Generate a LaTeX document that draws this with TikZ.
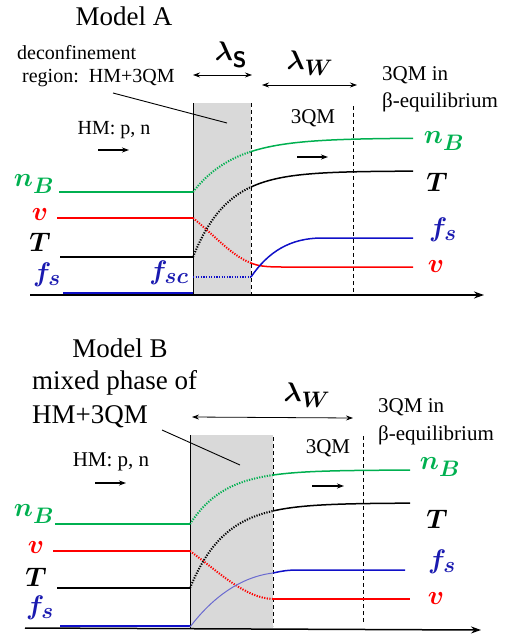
\documentclass[tikz,border=0pt]{standalone}
\usepackage{graphicx}
\usepackage{bm}
\usepackage{fontspec}
\setmainfont{Liberation Serif}
\usetikzlibrary{arrows.meta}
\definecolor{cgreen}{HTML}{00B050}
\definecolor{cred}{HTML}{FF0000}
\definecolor{cblue}{HTML}{1010C8}
\definecolor{lblue}{HTML}{1A1AB0}
\definecolor{lightblue}{HTML}{6A6AD0}
\definecolor{boxgray}{HTML}{D9D9D9}
\newcommand{\mlab}[1]{\scalebox{1.08}{$#1$}}
\begin{document}
\begin{tikzpicture}[x=1pt,y=-1pt,
  txt/.style={font=\fontsize{20}{23}\selectfont, inner sep=0pt, align=left},
  txtb/.style={font=\fontsize{21}{26}\selectfont, inner sep=0pt, align=left},
  big/.style={font=\fontsize{27}{31}\selectfont, inner sep=0pt, align=left},
  lab/.style={font=\fontsize{24.88}{30}\selectfont, inner sep=0pt},
  curve/.style={line width=1.5pt},
  dotc/.style={line width=2pt, dash pattern=on 1.2pt off 1.4pt},
  dashv/.style={line width=0.9pt, dash pattern=on 4pt off 3pt},
  darr/.style={line width=0.8pt, {Stealth[length=7pt,width=5pt]}-{Stealth[length=7pt,width=5pt]}},
  sarr/.style={line width=1.2pt, -{Stealth[length=7pt,width=5pt]}},
  axis/.style={line width=1.5pt, -{Stealth[length=10pt,width=7pt]}}
]
\useasboundingbox (0,0) rectangle (508,637);

%================ Model A ==================
\fill[boxgray] (193,103) rectangle (251,295);
\node[big] (mA) at (124,16) {Model A};
\node[txt, anchor=west] (dec1) at (17,53) {deconfinement};
\node[txt, anchor=west] (dec2) at (22,78) {region:\ \ HM+3QM};
\node[lab] (ls) at (231,55) {\mlab{\bm{\lambda}_{\bm{\mathsf{S}}}}};
\node[lab] (lw) at (310,63) {\mlab{\bm{\lambda_W}}};
\node[txtb, anchor=west] (eq1) at (382,75) {3QM in};
\node[txtb, anchor=west] (eq2) at (382,102) {β-equilibrium};
\node[txtb] (q3) at (313,118) {3QM};
\node[txt] (hm) at (114,130) {HM: p, n};

\coordinate (s1) at (193,75); \coordinate (s2) at (252,75);
\draw[darr] (s1) -- (s2);
\coordinate (w1) at (262,85); \coordinate (w2) at (357,85);
\draw[darr] (w1) -- (w2);
\coordinate (ca) at (113,93); \coordinate (cb) at (227,123);
\draw[line width=0.9pt] (ca) -- (cb);
\coordinate (h1) at (98,150); \coordinate (h2) at (129,150);
\draw[sarr] (h1) -- (h2);
\coordinate (q1) at (297,157); \coordinate (q2) at (328,157);
\draw[sarr] (q1) -- (q2);

% verticals
\draw[line width=1pt] (193,103) -- (193,295);
\draw[dashv] (251,103) -- (251,295);
\draw[dashv] (353,106) -- (353,294);

% n_B
\draw[cgreen, curve] (59,192) -- (193,192);
\draw[cgreen, dotc] plot[domain=193:251, samples=30] (\x, {138+54*exp(-(\x-193)/42)});
\draw[cgreen, curve] plot[domain=251:413, samples=40] (\x, {138+54*exp(-(\x-193)/42)});
% v
\draw[cred, curve] (57,218) -- (193,218);
\draw[cred, dotc] (193,218) .. controls (215,236) and (232,256) .. (251,263);
\draw[cred, curve] (251,263) .. controls (258,266) and (266,267) .. (282,267) -- (413,267);
% T
\draw[black, curve] (60,257) -- (193,257);
\draw[black, dotc] plot[domain=193:251, samples=30] (\x, {171+86*exp(-(\x-193)/34.5)});
\draw[black, curve] plot[domain=251:413, samples=40] (\x, {171+86*exp(-(\x-193)/34.5)});
% f_s
\draw[cblue, curve] (63,293) -- (193,293);
\draw[cblue, dotc] (193,277) -- (251,277);
\draw[cblue, curve] (251,277) .. controls (268,252) and (290,238) .. (322,238) -- (413,238);

% axis
\coordinate (ax1) at (30,295); \coordinate (ax2) at (484,295);
\draw[axis] (ax1) -- (ax2);

% labels
\node[lab, text=cgreen] (nBl) at (34,184) {\mlab{\bm{n_B}}};
\node[lab, text=cred] (vl) at (40,215) {\mlab{\bm{v}}};
\node[lab, text=black] (Tl) at (40,242) {\mlab{\bm{T}}};
\node[lab, text=lblue] (fsl) at (47,275) {\mlab{\bm{f_s}}};
\node[lab, text=lblue] (fsc) at (169,273) {\mlab{\bm{f_{sc}}}};
\node[lab, text=cgreen] (nBr) at (444,141) {\mlab{\bm{n_B}}};
\node[lab, text=black] (Tr) at (437,182) {\mlab{\bm{T}}};
\node[lab, text=lblue] (fsr) at (443,230) {\mlab{\bm{f_s}}};
\node[lab, text=cred] (vr) at (436,267) {\mlab{\bm{v}}};

%================ Model B ==================
\fill[boxgray] (190,435) rectangle (273,628);
\node[big] (mB) at (120,348) {Model B};
\node[big, anchor=west] (mx1) at (32,383) {mixed phase of};
\node[big, anchor=west] (mx2) at (32,417) {HM+3QM};
\node[lab] (lw2) at (307,395) {\mlab{\bm{\lambda_W}}};
\node[txtb, anchor=west] (eq3) at (378,407) {3QM in};
\node[txtb, anchor=west] (eq4) at (378,435) {β-equilibrium};
\node[txtb] (q4) at (328,448) {3QM};
\node[txtb] (hm2) at (111,462) {HM: p, n};

\coordinate (w3) at (192,417); \coordinate (w4) at (353,418);
\draw[darr] (w3) -- (w4);
\coordinate (cc) at (162,430); \coordinate (cd) at (240,465);
\draw[line width=0.9pt] (cc) -- (cd);
\coordinate (h3) at (95,483); \coordinate (h4) at (126,483);
\draw[sarr] (h3) -- (h4);
\coordinate (q5) at (312,486); \coordinate (q6) at (344,486);
\draw[sarr] (q5) -- (q6);

\draw[line width=1pt] (190,435) -- (190,628);
\draw[dashv] (273,437) -- (273,626);
\draw[dashv] (363,436) -- (363,624);

% n_B
\draw[cgreen, curve] (55,524) -- (190,524);
\draw[cgreen, dotc] plot[domain=190:273, samples=30] (\x, {470+54*exp(-(\x-190)/35)});
\draw[cgreen, curve] plot[domain=273:410, samples=40] (\x, {470+54*exp(-(\x-190)/35)});
% v
\draw[cred, curve] (53,551) -- (190,551);
\draw[cred, dotc] (190,551) .. controls (220,573) and (245,598) .. (273,599);
\draw[cred, curve] (273,599) -- (410,599);
% T
\draw[black, curve] (57,588) -- (190,588);
\draw[black, dotc] plot[domain=190:273, samples=30] (\x, {503+85*exp(-(\x-190)/35)});
\draw[black, curve] plot[domain=273:410, samples=40] (\x, {503+85*exp(-(\x-190)/35)});
% f_s
\draw[cblue, curve] (60,626) -- (190,626);
\draw[lightblue, line width=1pt] (190,627) .. controls (212,598) and (240,577) .. (273,573);
\draw[cblue, curve] (273,573) .. controls (282,571) and (288,570) .. (298,570) -- (405,570);

\coordinate (ax3) at (25,628); \coordinate (ax4) at (481,630);
\draw[axis] (ax3) -- (ax4);

\node[lab, text=cgreen] (nBl2) at (34,514) {\mlab{\bm{n_B}}};
\node[lab, text=cred] (vl2) at (36,548) {\mlab{\bm{v}}};
\node[lab, text=black] (Tl2) at (36,577) {\mlab{\bm{T}}};
\node[lab, text=lblue] (fsl2) at (40,608) {\mlab{\bm{f_s}}};
\node[lab, text=cgreen] (nBr2) at (440,467) {\mlab{\bm{n_B}}};
\node[lab, text=black] (Tr2) at (437,519) {\mlab{\bm{T}}};
\node[lab, text=lblue] (fsr2) at (442,562) {\mlab{\bm{f_s}}};
\node[lab, text=cred] (vr2) at (436,599) {\mlab{\bm{v}}};
\end{tikzpicture}
\end{document}
